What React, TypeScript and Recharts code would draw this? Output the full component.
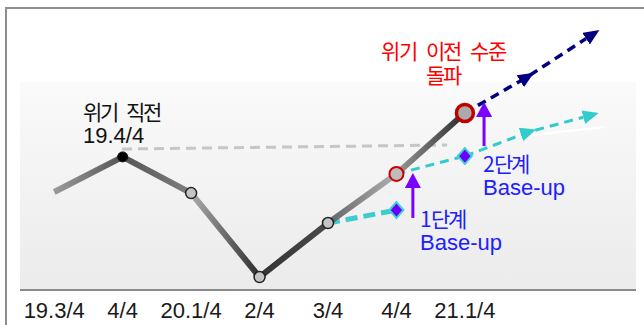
import { LineChart, Line, XAxis, YAxis, ReferenceArea } from 'recharts';

// 분기별 흐름 (x: 분기 인덱스, y: 상대 수준)
const categoryLabels = ['19.3/4', '4/4', '20.1/4', '2/4', '3/4', '4/4', '21.1/4'];
const mainValues = [36.3, 49.3, 35.9, 4.8, 24.8, 43, 65.6];

// 위기 직전 수준 (점선)
const preCrisisX = [0.99, 5.74];
const preCrisisY = [52.2, 53.7];

// 위기 이전 수준 돌파 이후 추세
const breakoutX = [6, 6.91, 7.77];
const breakoutY = [65.6, 78.9, 93.1];

// 1단계 / 2단계 Base-up
const step1X = [4, 5];
const step1Y = [24.8, 29.6];
const step2X = [5, 6];
const step2Y = [43, 49.6];
const step2TrendX = [6, 6.93, 7.73];
const step2TrendY = [49.6, 58.5, 64];
const glintX = [6.99, 8.04];
const glintY = [57.4, 60.4];

// 상승 화살표
const lift1X = [5.24, 5.24];
const lift1Y = [26.7, 37.8];
const lift2X = [6.28, 6.28];
const lift2Y = [53.3, 64.1];

const zip = (xs: number[], ys: number[]) => xs.map((x, i) => ({ x, y: ys[i] }));

const mainData = mainValues.map((y, x) => ({ x, y }));
const preCrisisData = zip(preCrisisX, preCrisisY);
const breakoutData = zip(breakoutX, breakoutY);
const step1Data = zip(step1X, step1Y);
const step2Data = zip(step2X, step2Y);
const step2TrendData = zip(step2TrendX, step2TrendY);
const glintData = zip(glintX, glintY);
const lift1Data = zip(lift1X, lift1Y);
const lift2Data = zip(lift2X, lift2Y);

const LATIN = "'Liberation Sans', Arial, 'Noto Sans CJK KR', sans-serif";
const KOREAN = "'KRTight', 'Noto Sans CJK KR', sans-serif";

// 한글 폰트의 줄 높이를 좁게 (글자 모양은 그대로)
const fontCss = `
@font-face {
  font-family: 'KRTight';
  src: local('Noto Sans CJK KR'), local('Noto Sans CJK KR Regular'), local('NotoSansCJKkr-Regular');
  ascent-override: 88%;
  descent-override: 12%;
  line-gap-override: 0%;
}
`;

const renderMainDot = (p: any) => {
  const { cx, cy, index } = p;
  const key = `main-dot-${index}`;
  if (index === 0) return <g key={key} />;
  if (index === 1) return <circle key={key} cx={cx} cy={cy} r={5} fill="#000" stroke="#111" strokeWidth={1} />;
  if (index === 5) return <circle key={key} cx={cx} cy={cy} r={7} fill="#bdbdbd" stroke="#cc0000" strokeWidth={2} />;
  if (index === 6) return <circle key={key} cx={cx} cy={cy} r={8.5} fill="#aaa" stroke="#c00000" strokeWidth={3.5} />;
  return <circle key={key} cx={cx} cy={cy} r={5.5} fill="#c4c4c4" stroke="#222" strokeWidth={1.5} />;
};

const renderDiamond = (p: any) => {
  const { cx, cy, index } = p;
  const key = `diamond-${index}`;
  if (index !== 1) return <g key={key} />;
  return (
    <path
      key={key}
      d={`M${cx},${cy - 8} L${cx + 7},${cy} L${cx},${cy + 8} L${cx - 7},${cy} Z`}
      fill="#6e00ff"
      stroke="#3ed3d3"
      strokeWidth={2}
    />
  );
};

const Arrow = ({ id, color, mid }: { id: string; color: string; mid?: boolean }) => (
  <marker
    id={id}
    markerUnits="userSpaceOnUse"
    markerWidth={16}
    markerHeight={14}
    refX={mid ? 8 : 0}
    refY={7}
    orient="auto"
  >
    <path d="M0,0 L16,7 L0,14 Z" fill={color} stroke="none" />
  </marker>
);

export default function App() {
  const textBase: React.CSSProperties = { position: 'absolute', whiteSpace: 'nowrap' };
  const kor: React.CSSProperties = { fontFamily: KOREAN, fontSize: 21, letterSpacing: -2, wordSpacing: 6 };
  const step: React.CSSProperties = { fontFamily: KOREAN, fontSize: 21, letterSpacing: -1.5 };
  return (
    <div style={{ position: 'absolute', left: 0, top: 0, width: 644, height: 325, overflow: 'hidden', background: '#fff' }}>
      <style>{fontCss}</style>
      <div style={{ position: 'absolute', left: 5, top: 7, width: 700, height: 400, border: '2px solid #8e8e8e' }} />
      <div style={{ position: 'absolute', left: 0, top: 0 }}>
        <LineChart width={644} height={325} margin={{ top: 20, right: 8, bottom: 0, left: 20 }} style={{ fontFamily: LATIN }}>
          <defs>
            <linearGradient id="plotBg" x1="0" y1="0" x2="0" y2="1">
              <stop offset="0%" stopColor="#fafafa" />
              <stop offset="100%" stopColor="#ebebeb" />
            </linearGradient>
            <linearGradient id="mainGrad" x1="0" y1="0" x2="1" y2="0">
              <stop offset="0" stopColor="#9a9a9a" />
              <stop offset="0.1667" stopColor="#555" />
              <stop offset="0.1667" stopColor="#555" />
              <stop offset="0.333" stopColor="#808080" />
              <stop offset="0.333" stopColor="#ababab" />
              <stop offset="0.5" stopColor="#2e2e2e" />
              <stop offset="0.5" stopColor="#333" />
              <stop offset="0.667" stopColor="#4a4a4a" />
              <stop offset="0.667" stopColor="#666" />
              <stop offset="0.833" stopColor="#b0b0b0" />
              <stop offset="0.833" stopColor="#999" />
              <stop offset="1" stopColor="#2c2c2c" />
            </linearGradient>
            <Arrow id="navyMid" color="#000080" mid />
            <Arrow id="navyEnd" color="#000080" />
            <Arrow id="cyanMid" color="#33cccc" mid />
            <Arrow id="cyanEnd" color="#33cccc" />
            <marker id="purpleEnd" markerUnits="userSpaceOnUse" markerWidth={15} markerHeight={16} refX={0} refY={8} orient="auto">
              <path d="M0,0 L15,8 L0,16 Z" fill="#7a00ff" stroke="none" />
            </marker>
          </defs>
          <XAxis
            type="number"
            dataKey="x"
            domain={[-0.5, 8.5]}
            ticks={[0, 1, 2, 3, 4, 5, 6]}
            tickFormatter={(v: number) => categoryLabels[v]}
            allowDataOverflow
            height={35}
            tickLine={false}
            tickMargin={6}
            axisLine={{ stroke: '#8a8a8a', strokeWidth: 2 }}
            tick={{ fill: '#1a1a1a', fontSize: 22 }}
            interval={0}
          />
          <YAxis type="number" domain={[0, 100]} hide allowDataOverflow />
          <ReferenceArea x1={-0.5} x2={8.5} y1={0} y2={77} fill="url(#plotBg)" fillOpacity={1} stroke="none" />
          <Line data={preCrisisData} dataKey="y" stroke="#c6c6c6" strokeWidth={3} strokeDasharray="10 6" dot={false} isAnimationActive={false} />
          <Line data={glintData} dataKey="y" stroke="#ffffff" strokeWidth={2} dot={false} isAnimationActive={false} />
          <Line data={step1Data} dataKey="y" stroke="#3ccccc" strokeWidth={5} strokeDasharray="12 6" dot={renderDiamond} isAnimationActive={false} />
          <Line data={step2TrendData} dataKey="y" stroke="#33cccc" strokeWidth={3} strokeDasharray="9 6" dot={false} markerMid="url(#cyanMid)" markerEnd="url(#cyanEnd)" isAnimationActive={false} />
          <Line data={step2Data} dataKey="y" stroke="#33cccc" strokeWidth={3} strokeDasharray="9 6" dot={renderDiamond} isAnimationActive={false} />
          <Line data={mainData} dataKey="y" stroke="url(#mainGrad)" strokeWidth={6} dot={renderMainDot} isAnimationActive={false} />
          <Line data={breakoutData} dataKey="y" stroke="#000080" strokeWidth={3.5} strokeDasharray="9 6" dot={false} markerMid="url(#navyMid)" markerEnd="url(#navyEnd)" isAnimationActive={false} />
          <Line data={lift1Data} dataKey="y" stroke="#7a00ff" strokeWidth={3} dot={false} markerEnd="url(#purpleEnd)" isAnimationActive={false} />
          <Line data={lift2Data} dataKey="y" stroke="#7a00ff" strokeWidth={3} dot={false} markerEnd="url(#purpleEnd)" isAnimationActive={false} />
        </LineChart>
      </div>

      <div style={{ ...textBase, left: 83, top: 100.5, fontFamily: LATIN, fontSize: 22, lineHeight: '23px', color: '#111' }}>
        <span style={kor}>위기 직전</span>
        <br />
        19.4/4
      </div>

      <div style={{ ...textBase, ...kor, left: 343, width: 200, textAlign: 'center', top: 39.5, lineHeight: '24.5px', letterSpacing: -1.5, color: '#ff0000' }}>
        위기 이전 수준
        <br />
        돌파
      </div>

      <div style={{ ...textBase, left: 483, top: 153, fontFamily: LATIN, fontSize: 22, lineHeight: '23px', color: '#2020ff' }}>
        <span style={step}>2단계</span>
        <br />
        Base-up
      </div>
      <div style={{ ...textBase, left: 420, top: 207.5, fontFamily: LATIN, fontSize: 22, lineHeight: '23px', color: '#2020ff' }}>
        <span style={step}>1단계</span>
        <br />
        Base-up
      </div>
    </div>
  );
}
